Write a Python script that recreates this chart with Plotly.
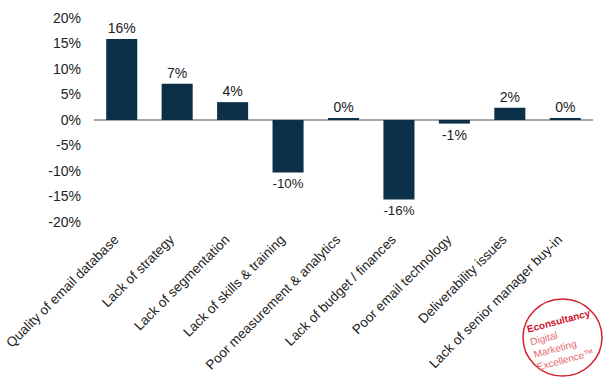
import plotly.graph_objects as go

categories = [
    "Quality of email database",
    "Lack of strategy",
    "Lack of segmentation",
    "Lack of skills & training",
    "Poor measurement & analytics",
    "Lack of budget / finances",
    "Poor email technology",
    "Deliverability issues",
    "Lack of senior manager buy-in",
]
values = [15.9, 7.1, 3.5, -10.3, 0.2, -15.6, -0.7, 2.4, 0.4]
labels = ["16%", "7%", "4%", "-10%", "0%", "-16%", "-1%", "2%", "0%"]
tick_vals = [20, 15, 10, 5, 0, -5, -10, -15, -20]
tick_text = ["20%", "15%", "10%", "5%", "0%", "-5%", "-10%", "-15%", "-20%"]

fig = go.Figure()
fig.add_trace(go.Bar(
    x=categories, y=values, text=labels, textposition="outside",
    marker=dict(color="#0c3047", line=dict(width=0)),
    textfont=dict(family="Liberation Sans, Arial", size=14, color="#222222"),
    cliponaxis=False, width=0.56,
))

fig.update_layout(
    width=615, height=388,
    margin=dict(l=94, r=22, t=18, b=166),
    paper_bgcolor="white", plot_bgcolor="white",
    showlegend=False,
    font=dict(family="Liberation Sans, Arial", color="#222222"),
    xaxis=dict(
        tickangle=-45, showgrid=False, showline=False, zeroline=False,
        ticks="", tickfont=dict(size=13.5, color="#222222"), automargin=False,
        ticklabelstandoff=6, ticklabelshift=-7,
    ),
    yaxis=dict(
        range=[-20, 20], tickvals=tick_vals, ticktext=tick_text,
        showgrid=False, showline=False, zeroline=True,
        zerolinecolor="#a6a6a6", zerolinewidth=1.5,
        ticks="", ticklabelstandoff=12, automargin=False,
        tickfont=dict(size=14, color="#222222"),
    ),
)

# Logo
fig.add_shape(type="circle", xref="paper", yref="paper",
              x0=(523 - 94) / 499, x1=(602 - 94) / 499,
              y0=(222 - 376) / 204, y1=(222 - 299) / 204,
              line=dict(color="#d0202e", width=1.5))
fig.add_annotation(
    xref="paper", yref="paper", xanchor="center", yanchor="middle",
    x=(563 - 94) / 499, y=(222 - 340) / 204,
    text="<b>Econsultancy</b><br><span style='color:#e56a72'>Digital<br>Marketing<br>Excellence™</span>",
    showarrow=False, align="left", textangle=-15,
    font=dict(family="Liberation Sans, Arial", size=10, color="#d0112b"),
)

fig.write_html("out.html", config={"displayModeBar": False},
               post_script="document.body.style.margin='0px';")
